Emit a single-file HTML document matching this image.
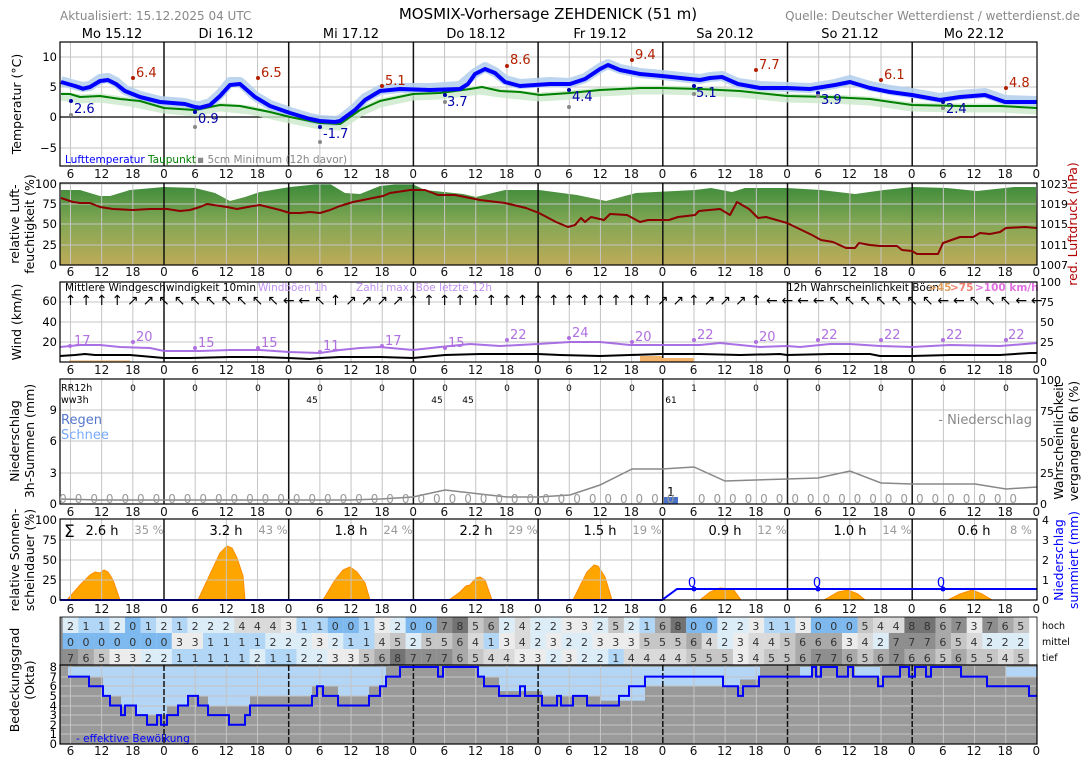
<!DOCTYPE html>
<html><head><meta charset="utf-8">
<style>
body{margin:0;background:#fff;width:1088px;height:763px;overflow:hidden;position:relative;font-family:"DejaVu Sans","Liberation Sans",sans-serif;}
svg{position:absolute;left:0;top:0}
.row{position:absolute;white-space:nowrap;font-size:12px;color:#111;line-height:14px}
.row i{font-style:normal;display:inline-block;text-align:center}
.tk i{width:31.17px}
.c i{width:15.585px;font-size:11px;color:#333}
.z i{width:15.585px;font-size:12px;color:#999}
</style></head><body>
<svg id="s" width="1088" height="763" xmlns="http://www.w3.org/2000/svg" font-family="DejaVu Sans, Liberation Sans, sans-serif">
<defs>
<linearGradient id="hg" x1="0" y1="0" x2="0" y2="1">
<stop offset="0" stop-color="#3a8a3a"/><stop offset="0.5" stop-color="#85a855"/><stop offset="1" stop-color="#bdaa58"/>
</linearGradient>
</defs>
<g id="cells"></g>
<polygon fill="url(#hg)" points="60,265 61,190 80,190 100,196 110,196 130,190 164,187 195,188 215,193 230,201 245,197 260,192 290,187 320,184 330,184 345,193 360,194 380,186 410,183 425,190 463,194 476,197 505,190 539,190 577,195 606,201 636,193 695,190 711,188 732,192 745,188 787,188 821,190 855,194 884,190 913,187 947,188 977,191 1014,187 1036,187 1037,265"/>
<g id="cloudbg"></g>
<g fill="#ffa500" stroke="#ff8c00" stroke-width="1">
<polygon points="67,600 80,585 90,575 95,572 100,573 104,570 108,572 113,580 120,600"/>
<polygon points="198,600 212,570 220,553 227,546 232,548 237,558 243,576 245,600"/>
<polygon points="323,600 335,580 343,570 350,567 357,572 365,583 370,600"/>
<polygon points="449,600 460,592 466,586 470,585 476,578 480,577 485,580 492,600"/>
<polygon points="573,600 580,586 587,572 594,565 598,566 605,577 612,600"/>
<polygon points="700,600 710,592 720,588 733,589 741,600"/>
<polygon points="824,600 838,592 848,590 858,594 865,600"/>
<polygon points="948,600 960,594 972,590 982,594 992,600"/>
</g>
<g id="grid"></g>
<polyline fill="none" stroke="#c9e9c9" stroke-width="9" stroke-linejoin="round" opacity="0.8" points="61,96 80,99 100,98 130,102 164,109 195,112 220,107 250,110 290,119 320,125 340,126 360,112 380,103 413,96 440,95 480,90 500,93 540,97 570,95 600,92 640,90 662,90 700,91 740,93 787,98 830,99 870,101 912,107 960,108 1000,108 1037,110"/>
<polyline fill="none" stroke="#b6d0ec" stroke-width="10" stroke-linejoin="round" opacity="0.9" points="61,81 75,85 83,87 90,86 100,79 108,78 116,82 125,90 140,96 160,101 185,103 195,106 200,106 210,103 220,94 230,82 240,82 255,96 270,105 290,112 310,118 320,120 335,121 340,120 355,108 365,98 380,90 400,88 430,88 460,86 475,73 485,67 495,72 505,80 520,84 550,82 570,83 585,78 600,68 608,64 620,69 640,73 662,75 690,78 700,79 710,77 722,76 738,83 760,86 787,87 810,88 835,84 850,80 870,86 890,90 912,93 940,98 960,95 985,93 1005,100 1037,101"/>
<polyline fill="none" stroke="#008000" stroke-width="2" stroke-linejoin="round" points="61,94 70,94 80,97 100,96 120,99 140,101 164,108 195,110 210,107 220,105 240,106 250,108 270,112 290,117 320,123 340,124 360,110 380,101 413,94 440,93 470,89 482,87 500,91 520,92 540,95 570,93 600,90 640,88 662,88 700,89 740,91 787,96 830,97 870,99 912,105 960,106 1000,106 1037,108"/>
<polyline fill="none" stroke="#0000ff" stroke-width="4" stroke-linejoin="round" points="61,82 75,86 83,88.7 90,87 100,81 108,80 116,84 125,91 140,97 160,102 185,104 195,107 200,107.7 210,105 220,96 230,85 240,84 255,97 270,106 290,113 310,119 320,121 335,122 340,121 355,110 365,100 380,91 400,89 430,90 460,89 468,84 475,74 485,69 495,73 505,82 520,86 550,84 570,84 585,79 600,69 608,65 620,70 640,74 662,76 690,79 700,80 710,78 722,77 738,84 760,88 787,88 810,89 835,85 850,82 870,88 890,92 912,95 940,100 960,97 985,95 1005,102 1020,102 1037,102"/>
<g font-size="13">
<g fill="#b22000"><circle cx="133" cy="78" r="2"/><circle cx="258" cy="78" r="2"/><circle cx="382" cy="86" r="2"/><circle cx="507" cy="66" r="2"/><circle cx="632" cy="60" r="2"/><circle cx="756" cy="70" r="2"/><circle cx="881" cy="80" r="2"/><circle cx="1006" cy="88" r="2"/>
<text x="136" y="77">6.4</text><text x="261" y="77">6.5</text><text x="385" y="85">5.1</text><text x="510" y="64">8.6</text><text x="635" y="59">9.4</text><text x="759" y="69">7.7</text><text x="884" y="79">6.1</text><text x="1009" y="87">4.8</text></g>
<g fill="#0000aa"><circle cx="71" cy="101" r="2"/><circle cx="195" cy="112" r="2"/><circle cx="320" cy="127" r="2"/><circle cx="445" cy="95" r="2"/><circle cx="569" cy="90" r="2"/><circle cx="694" cy="86" r="2"/><circle cx="818" cy="93" r="2"/><circle cx="943" cy="102" r="2"/>
<text x="74" y="113">2.6</text><text x="198" y="123">0.9</text><text x="323" y="138">-1.7</text><text x="447" y="106">3.7</text><text x="572" y="101">4.4</text><text x="696" y="97">5.1</text><text x="821" y="104">3.9</text><text x="946" y="113">2.4</text></g>
<g fill="#888"><circle cx="71" cy="115" r="2"/><circle cx="195" cy="127" r="2"/><circle cx="320" cy="142" r="2"/><circle cx="445" cy="102" r="2"/><circle cx="569" cy="107" r="2"/><circle cx="694" cy="94" r="2"/><circle cx="818" cy="96" r="2"/><circle cx="943" cy="108" r="2"/></g>
</g>
<text x="65" y="163" font-size="10.5" fill="#0000ff">Lufttemperatur</text>
<text x="148" y="163" font-size="10.5" fill="#008000">Taupunkt</text>
<text x="197" y="163" font-size="10.5" fill="#888">▪ 5cm Minimum (12h davor)</text>
<polyline fill="none" stroke="#8b0000" stroke-width="2" stroke-linejoin="round" points="61,198 73,202 80,203 90,203 100,207 113,209 133,210 150,209 167,209 180,211 190,210 200,207 207,204 227,207 237,209 253,206 260,205 280,210 290,213 300,213 310,212 320,213 330,210 340,206 353,202 373,198 383,196 390,193 397,192 410,190 425,190 438,195 455,195 480,200 505,203 526,208 539,213 556,222 568,227 575,225 581,218 585,222 591,217 604,220 610,214 627,215 640,222 648,220 669,220 678,217 695,215 699,211 720,209 730,215 737,202 749,209 758,218 766,217 787,223 812,235 821,240 833,242 846,248 855,248 859,243 870,245 880,246 897,246 902,250 912,251 917,254 938,254 943,243 960,237 973,237 980,233 990,234 1000,232 1006,228 1025,227 1037,228"/>
<polygon fill="#f4b36a" points="640,362 640,356 662,356 662,358 694,358 694,362"/>
<polygon fill="#f4b36a" opacity="0.6" points="69,362 69,360 130,360 130,362"/>
<polyline fill="none" stroke="#a060e0" stroke-width="2" opacity="0.9" points="60,347 70,346 80,345 100,345 120,347 150,348 164,351 200,351 230,350 260,350 289,352 320,353 340,350 360,348 380,347 413,350 440,347 470,344 500,346 538,344 570,342 600,342 630,345 662,345 700,345 720,343 760,347 787,346 800,347 830,344 850,344 880,346 912,347 950,345 1000,346 1037,343"/>
<polyline fill="none" stroke="#000" stroke-width="2" points="60,356 75,355 85,354 95,355 130,355 164,358 190,358 230,357 260,357 289,358 310,359 320,358 340,357 380,357 413,358 445,355 480,354 538,354 560,355 600,356 630,355 662,354 700,354 740,355 780,354 787,355 830,354 870,354 880,356 912,356 950,355 1000,355 1030,353 1037,353"/>
<g fill="#b070e0" font-size="13">
<circle cx="70" cy="346" r="2"/><circle cx="133" cy="342" r="2"/><circle cx="195" cy="348" r="2"/><circle cx="258" cy="348" r="2"/><circle cx="320" cy="352" r="2"/><circle cx="382" cy="346" r="2"/><circle cx="445" cy="348" r="2"/><circle cx="507" cy="340" r="2"/><circle cx="569" cy="338" r="2"/><circle cx="632" cy="342" r="2"/><circle cx="694" cy="340" r="2"/><circle cx="756" cy="342" r="2"/><circle cx="818" cy="340" r="2"/><circle cx="881" cy="340" r="2"/><circle cx="943" cy="340" r="2"/><circle cx="1006" cy="340" r="2"/>
<text x="74" y="345">17</text><text x="136" y="341">20</text><text x="198" y="347">15</text><text x="261" y="347">15</text><text x="323" y="350">11</text><text x="385" y="345">17</text><text x="448" y="347">15</text><text x="510" y="339">22</text><text x="572" y="337">24</text><text x="635" y="341">20</text><text x="697" y="339">22</text><text x="759" y="341">20</text><text x="821" y="339">22</text><text x="884" y="339">22</text><text x="946" y="339">22</text><text x="1008" y="339">22</text>
</g>
<text x="65" y="291" font-size="10.5" fill="#000">Mittlere Windgeschwindigkeit 10min</text>
<text x="258" y="291" font-size="10.5" fill="#c090f0">Windböen 1h</text>
<text x="356" y="291" font-size="10.5" fill="#c090f0">Zahl: max. Böe letzte 12h</text>
<text x="787" y="291" font-size="10.5" fill="#000">12h Wahrscheinlichkeit Böen</text>
<text x="928" y="291" font-size="10.5" fill="#e0a060" font-weight="bold">&gt;45</text>
<text x="950" y="291" font-size="10.5" fill="#f08070" font-weight="bold">&gt;75</text>
<text x="975" y="291" font-size="10.5" fill="#e070e0" font-weight="bold">&gt;100 km/h</text>
<text font-size="14" fill="#000" text-anchor="middle" y="305" x="70.5 86.1 101.7 117.3 132.8 148.4 164.0 179.6 195.2 210.8 226.4 241.9 257.5 273.1 288.7 304.3 319.9 335.5 351.0 366.6 382.2 397.8 413.4 429.0 444.6 460.1 475.7 491.3 506.9 522.5 538.1 553.7 569.2 584.8 600.4 616.0 631.6 647.2 662.8 678.3 693.9 709.5 725.1 740.7 756.3 771.9 787.4 803.0 818.6 834.2 849.8 865.4 881.0 896.5 912.1 927.7 943.3 958.9 974.5 990.1 1005.6 1021.2 1036.8">↑↑↑↑↗↗↖↖↖↖↖↖↖↖←←↖↑↗↗↗↗↑↑↑↑↑↑↑↑↑↑↑↑↑↑↑↑↗↗↑↗↗↗↑←←←←↖↖↖↖↖↖↖←←↖↖↖←←</text>
<polyline fill="none" stroke="#888" stroke-width="1.5" points="60,499 100,500 164,500 289,500 350,500 380,499 413,497 445,490 480,494 507,497 538,497 570,495 600,485 632,469 662,469 694,467 725,481 787,479 818,478 850,471 881,483 912,484 975,484 1006,489 1037,487"/>
<rect x="664" y="497" width="14" height="7" fill="#4a72c8"/>
<text x="667" y="496" font-size="12" fill="#000">1</text>
<g font-size="9" fill="#000" text-anchor="middle">
<text x="133" y="391">0</text><text x="195" y="391">0</text><text x="258" y="391">0</text><text x="320" y="391">0</text><text x="382" y="391">0</text><text x="445" y="391">0</text><text x="507" y="391">0</text><text x="569" y="391">0</text><text x="632" y="391">0</text><text x="694" y="391">1</text><text x="756" y="391">0</text><text x="818" y="391">0</text><text x="881" y="391">0</text><text x="943" y="391">0</text><text x="1006" y="391">0</text>
<text x="312" y="403">45</text><text x="437" y="403">45</text><text x="468" y="403">45</text><text x="671" y="403">61</text>
</g>
<text x="61" y="391" font-size="9.5" fill="#000">RR12h</text>
<text x="61" y="403" font-size="9.5" fill="#000">ww3h</text>
<text x="61" y="424" font-size="13" fill="#5577cc">Regen</text>
<text x="61" y="439" font-size="13" fill="#77aaff">Schnee</text>
<text x="1032" y="424" font-size="13" fill="#888" text-anchor="end">- Niederschlag</text>
<polyline fill="none" stroke="#0000ff" stroke-width="2" points="60,600 662,600 677,589 1037,589"/>
<g fill="#0000ff"><circle cx="694" cy="589" r="2.5"/><circle cx="818" cy="589" r="2.5"/><circle cx="943" cy="589" r="2.5"/>
<text x="692" y="587" font-size="13" text-anchor="middle">0</text><text x="817" y="587" font-size="13" text-anchor="middle">0</text><text x="941" y="587" font-size="13" text-anchor="middle">0</text></g>
<text x="64" y="537" font-size="17">Σ</text>
<g font-size="13" fill="#000" text-anchor="middle">
<text x="102" y="535">2.6 h</text><text x="226" y="535">3.2 h</text><text x="351" y="535">1.8 h</text><text x="476" y="535">2.2 h</text><text x="600" y="535">1.5 h</text><text x="725" y="535">0.9 h</text><text x="850" y="535">1.0 h</text><text x="974" y="535">0.6 h</text>
</g>
<g font-size="11.5" fill="#999" text-anchor="middle">
<text x="149" y="534">35 %</text><text x="273" y="534">43 %</text><text x="398" y="534">24 %</text><text x="523" y="534">29 %</text><text x="647" y="534">19 %</text><text x="772" y="534">12 %</text><text x="897" y="534">14 %</text><text x="1021" y="534">8 %</text>
</g>
<g id="cloudline"></g>
<text x="76" y="742" font-size="10.5" fill="#0000ff">- effektive Bewölkung</text>
<g id="frames"></g>
<text x="60" y="20" font-size="12" fill="#888">Aktualisiert: 15.12.2025 04 UTC</text>
<text x="548" y="19" font-size="15" fill="#000" text-anchor="middle">MOSMIX-Vorhersage ZEHDENICK (51 m)</text>
<text x="1080" y="20" font-size="12" fill="#888" text-anchor="end">Quelle: Deutscher Wetterdienst / wetterdienst.de</text>
<g font-size="13" fill="#000" text-anchor="middle">
<text x="112" y="38">Mo 15.12</text><text x="226" y="38">Di 16.12</text><text x="351" y="38">Mi 17.12</text><text x="476" y="38">Do 18.12</text><text x="600" y="38">Fr 19.12</text><text x="725" y="38">Sa 20.12</text><text x="850" y="38">So 21.12</text><text x="974" y="38">Mo 22.12</text>
</g>
<g font-size="11.5" fill="#000" text-anchor="end">
<text x="57" y="61">10</text><text x="57" y="91">5</text><text x="57" y="121">0</text><text x="57" y="152">−5</text>
<text x="57" y="188">100</text><text x="57" y="208">75</text><text x="57" y="228">50</text><text x="57" y="249">25</text><text x="57" y="269">0</text>
<text x="57" y="305">60</text><text x="57" y="326">40</text><text x="57" y="346">20</text>
<text x="57" y="414">9</text><text x="57" y="445">6</text><text x="57" y="477">3</text><text x="57" y="508">0</text>
<text x="57" y="524">100</text><text x="57" y="544">75</text><text x="57" y="564">50</text><text x="57" y="584">25</text><text x="57" y="604">0</text>
<text x="57" y="671">8</text><text x="57" y="681">7</text><text x="57" y="690">6</text><text x="57" y="700">5</text><text x="57" y="710">4</text><text x="57" y="719">3</text><text x="57" y="729">2</text><text x="57" y="738">1</text><text x="57" y="748">0</text>
</g>
<g font-size="11" fill="#000">
<text x="1040" y="188">1023</text><text x="1040" y="208">1019</text><text x="1040" y="228">1015</text><text x="1040" y="249">1011</text><text x="1040" y="269">1007</text>
<text x="1040" y="286">100</text><text x="1040" y="306">75</text><text x="1040" y="326">50</text><text x="1040" y="346">25</text><text x="1040" y="366">0</text>
<text x="1040" y="384">100</text><text x="1040" y="415">75</text><text x="1040" y="446">50</text><text x="1040" y="477">25</text><text x="1040" y="508">0</text>
<text x="1042" y="524">4</text><text x="1042" y="544">3</text><text x="1042" y="564">2</text><text x="1042" y="584">1</text><text x="1042" y="604">0</text>
<text x="1042" y="629" font-size="9.5">hoch</text><text x="1042" y="645" font-size="9.5">mittel</text><text x="1042" y="661" font-size="9.5">tief</text>
</g>
<g font-size="12.5" fill="#000" text-anchor="middle">
<text transform="translate(21,104) rotate(-90)">Temperatur (°C)</text>
<text transform="translate(19,224) rotate(-90)">relative Luft-</text>
<text transform="translate(34,224) rotate(-90)">feuchtigkeit (%)</text>
<text transform="translate(21,322) rotate(-90)">Wind (km/h)</text>
<text transform="translate(19,441) rotate(-90)">Niederschlag</text>
<text transform="translate(34,441) rotate(-90)">3h-Summen (mm)</text>
<text transform="translate(19,560) rotate(-90)">relative Sonnen-</text>
<text transform="translate(34,560) rotate(-90)">scheindauer (%)</text>
<text transform="translate(19,680) rotate(-90)">Bedeckungsgrad</text>
<text transform="translate(34,680) rotate(-90)">(Okta)</text>
<text transform="translate(1077,224) rotate(-90)" fill="#b00000">red. Luftdruck (hPa)</text>
<text transform="translate(1063,441) rotate(-90)">Wahrscheinlichkeit</text>
<text transform="translate(1078,441) rotate(-90)">vergangene 6h (%)</text>
<text transform="translate(1063,560) rotate(-90)" fill="#0000ff">Niederschlag</text>
<text transform="translate(1078,560) rotate(-90)" fill="#0000ff">summiert (mm)</text>
</g>
</svg>

<div class="row tk" style="left:54.9px;top:167px"><i>6</i><i>12</i><i>18</i><i>0</i><i>6</i><i>12</i><i>18</i><i>0</i><i>6</i><i>12</i><i>18</i><i>0</i><i>6</i><i>12</i><i>18</i><i>0</i><i>6</i><i>12</i><i>18</i><i>0</i><i>6</i><i>12</i><i>18</i><i>0</i><i>6</i><i>12</i><i>18</i><i>0</i><i>6</i><i>12</i><i>18</i><i>0</i></div>
<div class="row tk" style="left:54.9px;top:265px"><i>6</i><i>12</i><i>18</i><i>0</i><i>6</i><i>12</i><i>18</i><i>0</i><i>6</i><i>12</i><i>18</i><i>0</i><i>6</i><i>12</i><i>18</i><i>0</i><i>6</i><i>12</i><i>18</i><i>0</i><i>6</i><i>12</i><i>18</i><i>0</i><i>6</i><i>12</i><i>18</i><i>0</i><i>6</i><i>12</i><i>18</i><i>0</i></div>
<div class="row tk" style="left:54.9px;top:363px"><i>6</i><i>12</i><i>18</i><i>0</i><i>6</i><i>12</i><i>18</i><i>0</i><i>6</i><i>12</i><i>18</i><i>0</i><i>6</i><i>12</i><i>18</i><i>0</i><i>6</i><i>12</i><i>18</i><i>0</i><i>6</i><i>12</i><i>18</i><i>0</i><i>6</i><i>12</i><i>18</i><i>0</i><i>6</i><i>12</i><i>18</i><i>0</i></div>
<div class="row tk" style="left:54.9px;top:505px"><i>6</i><i>12</i><i>18</i><i>0</i><i>6</i><i>12</i><i>18</i><i>0</i><i>6</i><i>12</i><i>18</i><i>0</i><i>6</i><i>12</i><i>18</i><i>0</i><i>6</i><i>12</i><i>18</i><i>0</i><i>6</i><i>12</i><i>18</i><i>0</i><i>6</i><i>12</i><i>18</i><i>0</i><i>6</i><i>12</i><i>18</i><i>0</i></div>
<div class="row tk" style="left:54.9px;top:602px"><i>6</i><i>12</i><i>18</i><i>0</i><i>6</i><i>12</i><i>18</i><i>0</i><i>6</i><i>12</i><i>18</i><i>0</i><i>6</i><i>12</i><i>18</i><i>0</i><i>6</i><i>12</i><i>18</i><i>0</i><i>6</i><i>12</i><i>18</i><i>0</i><i>6</i><i>12</i><i>18</i><i>0</i><i>6</i><i>12</i><i>18</i><i>0</i></div>
<div class="row tk" style="left:54.9px;top:744px"><i>6</i><i>12</i><i>18</i><i>0</i><i>6</i><i>12</i><i>18</i><i>0</i><i>6</i><i>12</i><i>18</i><i>0</i><i>6</i><i>12</i><i>18</i><i>0</i><i>6</i><i>12</i><i>18</i><i>0</i><i>6</i><i>12</i><i>18</i><i>0</i><i>6</i><i>12</i><i>18</i><i>0</i><i>6</i><i>12</i><i>18</i><i>0</i></div>

<div class="row z" style="left:55.2px;top:492px"><i>0</i><i>0</i><i>0</i><i>0</i><i>0</i><i>0</i><i>0</i><i>0</i><i>0</i><i>0</i><i>0</i><i>0</i><i>0</i><i>0</i><i>0</i><i>0</i><i>0</i><i>0</i><i>0</i><i>0</i><i>0</i><i>0</i><i>0</i><i>0</i><i>0</i><i>0</i><i>0</i><i>0</i><i>0</i><i>0</i><i>0</i><i>0</i><i>0</i><i>0</i><i>0</i><i>0</i><i>0</i><i>0</i><i>0</i><i>0</i><i></i><i>0</i><i>0</i><i>0</i><i>0</i><i>0</i><i>0</i><i>0</i><i>0</i><i>0</i><i>0</i><i>0</i><i>0</i><i>0</i><i>0</i><i>0</i><i>0</i><i>0</i><i>0</i><i>0</i><i>0</i><i>0</i></div>

<div class="row c" style="left:62.7px;top:619px"><i>2</i><i>1</i><i>1</i><i>2</i><i>0</i><i>1</i><i>2</i><i>1</i><i>2</i><i>2</i><i>2</i><i>4</i><i>4</i><i>4</i><i>3</i><i>1</i><i>1</i><i>0</i><i>0</i><i>1</i><i>3</i><i>2</i><i>0</i><i>0</i><i>7</i><i>8</i><i>5</i><i>6</i><i>2</i><i>4</i><i>2</i><i>2</i><i>3</i><i>3</i><i>2</i><i>5</i><i>2</i><i>1</i><i>6</i><i>8</i><i>0</i><i>0</i><i>2</i><i>2</i><i>3</i><i>1</i><i>1</i><i>3</i><i>0</i><i>0</i><i>0</i><i>5</i><i>4</i><i>4</i><i>8</i><i>8</i><i>6</i><i>7</i><i>3</i><i>7</i><i>6</i><i>5</i></div>
<div class="row c" style="left:62.7px;top:635px"><i>0</i><i>0</i><i>0</i><i>0</i><i>0</i><i>0</i><i>0</i><i>3</i><i>3</i><i>1</i><i>1</i><i>1</i><i>1</i><i>2</i><i>2</i><i>2</i><i>3</i><i>2</i><i>1</i><i>1</i><i>4</i><i>5</i><i>2</i><i>5</i><i>5</i><i>6</i><i>4</i><i>1</i><i>3</i><i>4</i><i>2</i><i>3</i><i>2</i><i>2</i><i>3</i><i>3</i><i>3</i><i>5</i><i>5</i><i>5</i><i>6</i><i>4</i><i>2</i><i>3</i><i>4</i><i>4</i><i>5</i><i>6</i><i>6</i><i>6</i><i>3</i><i>4</i><i>2</i><i>7</i><i>7</i><i>7</i><i>6</i><i>5</i><i>4</i><i>2</i><i>2</i><i>2</i></div>
<div class="row c" style="left:62.7px;top:651px"><i>7</i><i>6</i><i>5</i><i>3</i><i>3</i><i>2</i><i>2</i><i>1</i><i>1</i><i>1</i><i>1</i><i>1</i><i>2</i><i>1</i><i>1</i><i>2</i><i>2</i><i>3</i><i>3</i><i>5</i><i>6</i><i>8</i><i>7</i><i>7</i><i>7</i><i>6</i><i>5</i><i>4</i><i>4</i><i>3</i><i>3</i><i>2</i><i>3</i><i>2</i><i>2</i><i>1</i><i>4</i><i>4</i><i>4</i><i>4</i><i>5</i><i>5</i><i>5</i><i>3</i><i>4</i><i>5</i><i>5</i><i>6</i><i>7</i><i>7</i><i>6</i><i>5</i><i>6</i><i>7</i><i>6</i><i>6</i><i>5</i><i>6</i><i>5</i><i>5</i><i>4</i><i>5</i></div>

<script>
(function(){
var NS="http://www.w3.org/2000/svg";
function X(h){return 39.3+h*124.7/24;}
function el(p,t,a){var e=document.createElementNS(NS,t);for(var k in a)e.setAttribute(k,a[k]);p.appendChild(e);return e;}
var grid=document.getElementById('grid'),frames=document.getElementById('frames'),cells=document.getElementById('cells'),cbg=document.getElementById('cloudbg'),cl=document.getElementById('cloudline');
var panels=[[42,166,[57,87,117,148]],[183,265,[184,204,224,245]],[282,362,[302,322,342]],[379,504,[410,441,473]],[519,600,[540,560,580]],[665,744,[677,686,696,706,715,725,734]]];
panels.forEach(function(p){
 p[2].forEach(function(y){el(grid,'line',{x1:60,x2:1037,y1:y,y2:y,stroke:'#c4c4c4','stroke-width':1});});
 for(var h=6;h<192;h+=6){var x=X(h);var day=h%24==0;
  el(grid,'line',{x1:x,x2:x,y1:p[0],y2:p[1],stroke:day?'#111':'#c4c4c4','stroke-width':day?1.5:1,'stroke-dasharray':(day&&p[0]==665)?'6,2':'none'});}
 el(frames,'rect',{x:60,y:p[0],width:977,height:p[1]-p[0],fill:'none',stroke:'#000','stroke-width':1.2});
});
el(grid,'line',{x1:60,x2:1037,y1:117,y2:117,stroke:'#000','stroke-width':1.2});
el(frames,'rect',{x:60,y:617,width:977,height:48,fill:'none',stroke:'#000','stroke-width':0.8});
var hoch=[2,1,1,2,0,1,2,1,2,2,2,4,4,4,3,1,1,0,0,1,3,2,0,0,7,8,5,6,2,4,2,2,3,3,2,5,2,1,6,8,0,0,2,2,3,1,1,3,0,0,0,5,4,4,8,8,6,7,3,7,6,5];
var mit=[0,0,0,0,0,0,0,3,3,1,1,1,1,2,2,2,3,2,1,1,4,5,2,5,5,6,4,1,3,4,2,3,2,2,3,3,3,5,5,5,6,4,2,3,4,4,5,6,6,6,3,4,2,7,7,7,6,5,4,2,2,2];
var tief=[7,6,5,3,3,2,2,1,1,1,1,1,2,1,1,2,2,3,3,5,6,8,7,7,7,6,5,4,4,3,3,2,3,2,2,1,4,4,4,4,5,5,5,3,4,5,5,6,7,7,6,5,6,7,6,6,5,6,5,5,4,5];
var col=['#7db9ee','#b2d6f5','#dcedf8','#ececec','#dadada','#c6c6c6','#a9a9a9','#8e8e8e','#737373'];
[[hoch,617],[mit,633],[tief,649]].forEach(function(r){
 el(cells,'rect',{x:60,y:r[1],width:3,height:16,fill:'#888'});
 r[0].forEach(function(v,i){var x0=X(4.5+3*i);el(cells,'rect',{x:x0,y:r[1],width:Math.min(15.7,1037-x0),height:16,fill:col[v]});});
});
var st=[[60,7],[68,7],[89,6],[103,5],[110,4],[121,3],[125,4],[136,3],[147,2],[157,3],[161,2],[167,3],[178,4],[188,5],[198,4],[208,3],[229,2],[245,3],[250,4],[312,5],[317,6],[323,5],[338,4],[369,5],[380,6],[386,7],[400,8],[438,7],[443,8],[478,7],[484,6],[499,5],[520,6],[525,5],[542,4],[557,5],[561,4],[573,5],[587,4],[619,5],[629,6],[645,7],[723,6],[738,5],[743,6],[759,7],[812,8],[816,7],[821,8],[837,7],[848,8],[853,7],[878,6],[883,7],[900,8],[909,7],[915,8],[926,7],[931,8],[961,7],[987,6],[1029,5]];
function Y(v){return 744-v*9.625;}
el(cbg,'rect',{x:60,y:665,width:977,height:79,fill:'#9a9a9a'});
var lb=[[68,103,7],[103,121,5],[121,136,4],[136,167,3],[167,188,4],[188,208,5],[208,250,4],[250,312,5],[312,338,6],[338,369,5],[369,386,6],[478,499,7],[499,542,5.5],[542,600,5],[600,645,4.5],[645,740,6],[740,760,6.7],[800,812,7],[855,880,7],[1006,1037,7]];
lb.forEach(function(s){el(cbg,'rect',{x:s[0],y:Y(8),width:s[1]-s[0],height:Y(s[2])-Y(8),fill:'#b3d5f6'});});
var d='';
for(var i=1;i<st.length;i++){var x=st[i][0],v=st[i][1],nx=(i+1<st.length)?st[i+1][0]:1037;
 d+=(i==1?'M':'L')+x+','+Y(v)+'L'+nx+','+Y(v);}
el(cl,'path',{d:d,fill:'none',stroke:'#0000ff','stroke-width':2});
})();
</script>
</body></html>
